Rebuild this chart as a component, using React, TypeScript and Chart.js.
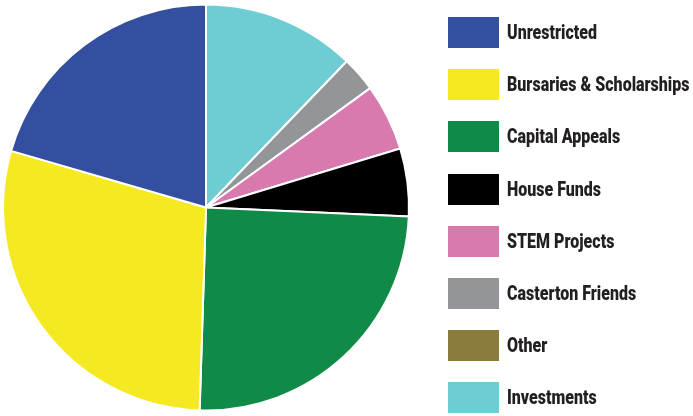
import React, { useEffect, useRef } from "react";
import { Chart, registerables } from "chart.js";

Chart.register(...registerables);

const categories: string[] = [
  "Unrestricted",
  "Bursaries & Scholarships",
  "Capital Appeals",
  "House Funds",
  "STEM Projects",
  "Casterton Friends",
  "Other",
  "Investments",
];

const shares: number[] = [20.5, 29.0, 24.8, 5.4, 5.3, 2.8, 0, 12.2];

const colors: string[] = [
  "#344F9F",
  "#F5EA22",
  "#0F8A47",
  "#000000",
  "#D97AAE",
  "#939598",
  "#8A7D3C",
  "#6DCDD2",
];

export default function App() {
  const canvasRef = useRef<HTMLCanvasElement | null>(null);

  useEffect(() => {
    if (!canvasRef.current) return;
    // slices run counter-clockwise from the top in legend order,
    // so feed them to Chart.js (clockwise) in reverse order
    const chart = new Chart(canvasRef.current, {
      type: "pie",
      data: {
        labels: [...categories].reverse(),
        datasets: [
          {
            data: [...shares].reverse(),
            backgroundColor: [...colors].reverse(),
            borderColor: "#FFFFFF",
            borderWidth: 2,
          },
        ],
      },
      options: {
        responsive: false,
        animation: false,
        events: [],
        rotation: 0,
        layout: { padding: { left: 0, right: 281, top: 3.5, bottom: 4.5 } },
        plugins: {
          legend: { display: false },
          tooltip: { enabled: false },
        },
      },
    });
    return () => chart.destroy();
  }, []);

  return (
    <div
      style={{
        position: "fixed",
        left: 0,
        top: 0,
        width: 693,
        height: 416,
        background: "#FFFFFF",
        overflow: "hidden",
      }}
    >
      <canvas
        ref={canvasRef}
        width={693}
        height={416}
        style={{ position: "absolute", left: 0, top: 0, width: 693, height: 416 }}
      />
      <div style={{ position: "absolute", left: 448, top: 17 }}>
        {categories.map((c, i) => (
          <div
            key={c}
            style={{
              position: "absolute",
              left: 0,
              top: i * 52.2,
              height: 31,
              display: "flex",
              alignItems: "center",
              whiteSpace: "nowrap",
            }}
          >
            <div style={{ width: 51, height: 31, background: colors[i], flex: "none" }} />
            <span
              style={{
                marginLeft: 8,
                fontFamily: "Roboto, 'Liberation Sans', sans-serif",
                fontWeight: 900,
                fontSize: 20,
                color: "#231F20",
                display: "inline-block",
                transform: "scaleX(0.8)",
                transformOrigin: "left center",
                lineHeight: "31px",
              }}
            >
              {c}
            </span>
          </div>
        ))}
      </div>
    </div>
  );
}
